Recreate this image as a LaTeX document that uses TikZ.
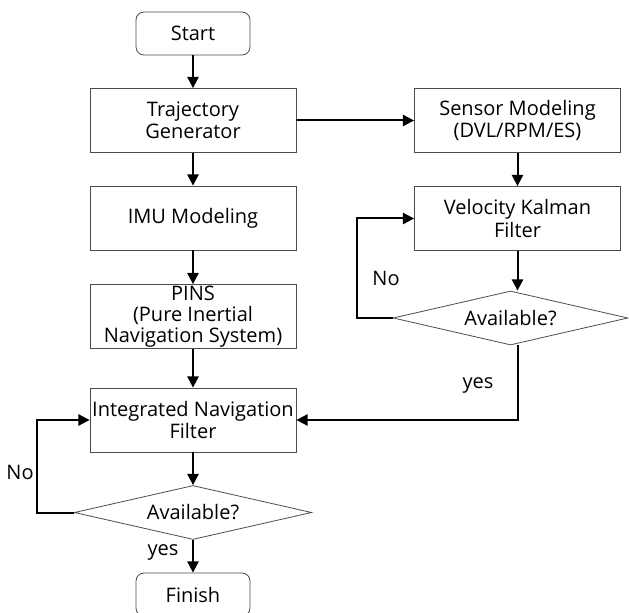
\documentclass[tikz,border=0pt]{standalone}
\usepackage{fontspec}
\setmainfont{Open Sans}
\usetikzlibrary{arrows.meta,shapes.geometric}

\tikzset{every picture/.style={line width=0.75pt}}
\tikzset{
	proc/.style={draw=black!70, line width=0.6pt, minimum width=154.5pt, minimum height=48pt, inner xsep=1pt, inner ysep=0pt, align=center},
	term/.style={draw=black!70, line width=0.6pt, rounded corners=6pt, minimum width=85.5pt, minimum height=32.25pt, align=center},
	decide/.style={draw=black!70, line width=0.6pt, diamond, aspect=4.4, minimum width=178pt, minimum height=40.5pt, inner sep=0pt},
	arr/.style={line width=1.5pt, -{Triangle[length=8.5pt,width=8.5pt]}},
	lbl/.style={inner sep=0pt}
}

\begin{document}
\begin{tikzpicture}[x=0.75pt,y=0.75pt,yscale=-1,xscale=1,font=\fontsize{15}{16.8}\selectfont]
	\useasboundingbox (0,0) rectangle (629,613);

	%Shape: Rounded Rect [id:start]
	\node[term] (start) at (193,33.5) {Start};
	%Shape: Rectangle [id:traj]
	\node[proc] (traj) at (193,120.5) {Trajectory\\Generator};
	%Shape: Rectangle [id:imu]
	\node[proc] (imu) at (193,218) {IMU Modeling};
	%Shape: Rectangle [id:pins]
	\node[proc, font=\fontsize{15}{16}\selectfont] (pins) at (193,316.5) {PINS\\(Pure Inertial\\Navigation System)};
	%Shape: Rectangle [id:inf]
	\node[proc] (inf) at (193,420) {Integrated Navigation\\Filter};
	%Shape: Diamond [id:dec2]
	\node[decide] (dec2) at (193,512.5) {Available?};
	%Shape: Rounded Rect [id:finish]
	\node[term] (finish) at (193,594.5) {Finish};

	%Shape: Rectangle [id:sensor]
	\node[proc] (sensor) at (517.5,120.5) {Sensor Modeling\\(DVL/RPM/ES)};
	%Shape: Rectangle [id:vkf]
	\node[proc] (vkf) at (517.5,218.5) {Velocity Kalman\\Filter};
	%Shape: Diamond [id:dec1]
	\node[decide, minimum width=176pt] (dec1) at (510.5,318) {Available?};

	%Straight Lines
	\coordinate (noright) at (357,318);
	\coordinate (noleft) at (37,512.5);

	\draw[arr] (start) -- (traj);
	\draw[arr] (traj) -- (imu);
	\draw[arr] (imu) -- (pins);
	\draw[arr] (pins) -- (inf);
	\draw[arr] (inf) -- (dec2);
	\draw[arr] (dec2) -- (finish);
	\draw[arr] (traj.east) -- (sensor.west);
	\draw[arr] (sensor) -- (vkf);
	\draw[arr] (vkf.south) -- (vkf.south |- dec1.north);
	\draw[arr] (dec1.west) -- (noright) |- (vkf.west);
	\draw[arr] (vkf.south |- dec1.south) |- (inf.east);
	\draw[arr] (dec2.west) -- (noleft) |- (inf.west);

	% Text Node
	\node[lbl] (no1) at (386,278) {No};
	% Text Node
	\node[lbl] (no2) at (20,472) {No};
	% Text Node
	\node[lbl] (yes1) at (478,385) {yes};
	% Text Node
	\node[lbl] (yes2) at (163,552) {yes};

\end{tikzpicture}
\end{document}
